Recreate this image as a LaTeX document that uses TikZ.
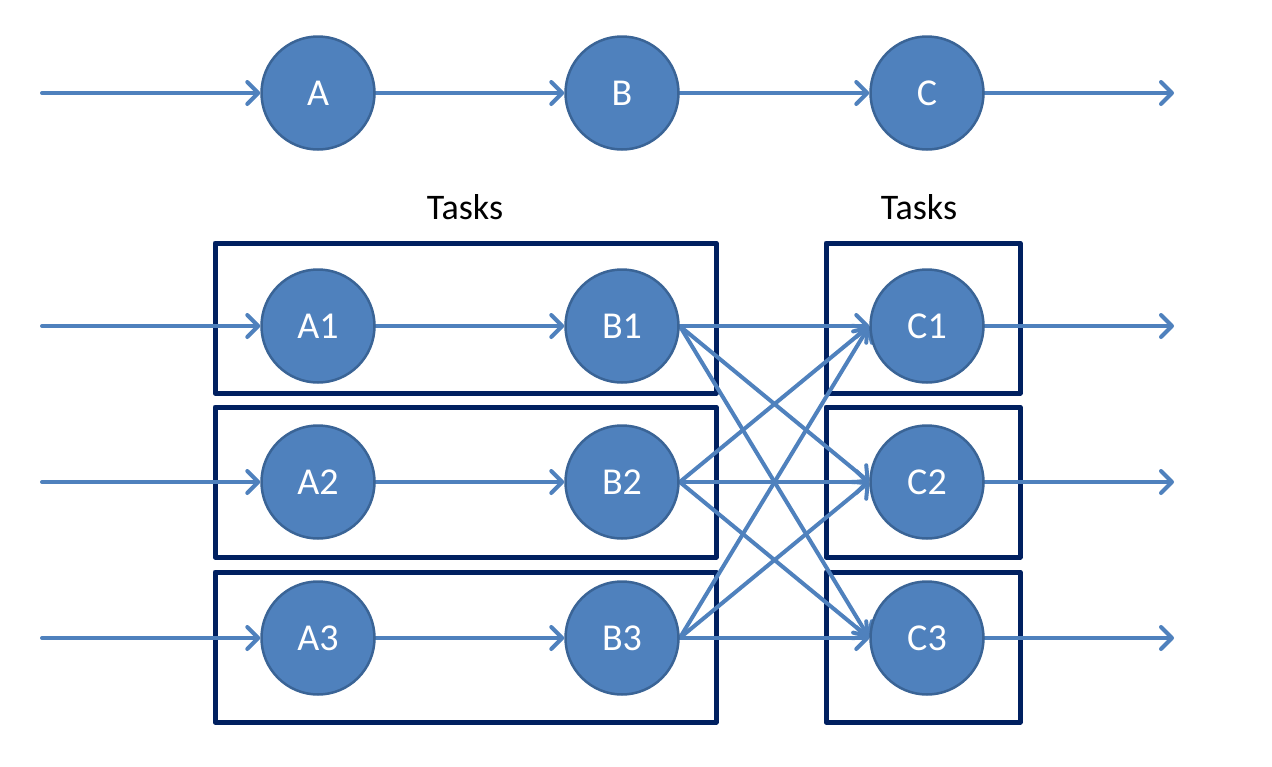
\documentclass[tikz,border=0pt]{standalone}
\usepackage{fontspec}
\setmainfont{Carlito}
\usetikzlibrary{arrows.meta}
\definecolor{nodefill}{HTML}{4F81BD}
\definecolor{nodeline}{HTML}{3A6496}
\definecolor{arrowcol}{HTML}{4F81BD}
\definecolor{boxcol}{HTML}{002060}
\pgfdeclarelayer{boxlayer}
\pgfdeclarelayer{linelayer}
\pgfsetlayers{boxlayer,linelayer,main}
\tikzset{
  circ/.style={circle, minimum size=113pt, inner sep=0pt, fill=nodefill, draw=nodeline, line width=2.5pt, text=white, font=\fontsize{38}{42}\selectfont},
  conn/.style={draw=arrowcol, line width=4pt, line cap=round, -{Straight Barb[length=11pt,width=22pt,line width=4pt,round]}},
  taskbox/.style={draw=boxcol, line width=5pt, line join=round},
  lbl/.style={font=\fontsize{36}{40}\selectfont, text=black}
}
\begin{document}
\begin{tikzpicture}[x=1pt,y=-1pt]
\useasboundingbox (0,0) rectangle (1272,766);
% labels
\node[lbl] (t1) at (465,207) {Tasks};
\node[lbl] (t2) at (919,207) {Tasks};
% nodes
\node[circ] (A) at (318,93) {A};
\node[circ] (B) at (622,93) {B};
\node[circ] (C) at (927,93) {C};
\node[circ] (A1) at (318,326) {A1};
\node[circ] (B1) at (622,326) {B1};
\node[circ] (C1) at (927,326) {C1};
\node[circ] (A2) at (318,482) {A2};
\node[circ] (B2) at (622,482) {B2};
\node[circ] (C2) at (927,482) {C2};
\node[circ] (A3) at (318,638) {A3};
\node[circ] (B3) at (622,638) {B3};
\node[circ] (C3) at (927,638) {C3};
% free ends
\coordinate (s0) at (42,93);
\coordinate (s1) at (42,326);
\coordinate (s2) at (42,482);
\coordinate (s3) at (42,638);
\coordinate (e0) at (1174,93);
\coordinate (e1) at (1174,326);
\coordinate (e2) at (1174,482);
\coordinate (e3) at (1174,638);
% boxes
\begin{pgfonlayer}{boxlayer}
\draw[taskbox] (215,243) rectangle (716,393);
\draw[taskbox] (215,407) rectangle (716,557);
\draw[taskbox] (215,572) rectangle (716,722);
\draw[taskbox] (826,243) rectangle (1020,393);
\draw[taskbox] (826,407) rectangle (1020,557);
\draw[taskbox] (826,572) rectangle (1020,722);
\end{pgfonlayer}
% connectors
\begin{pgfonlayer}{linelayer}
\draw[conn] (s0) -- (A.west);
\draw[conn] (A.east) -- (B.west);
\draw[conn] (B.east) -- (C.west);
\draw[conn] (C.east) -- (e0);
\foreach \i in {1,2,3}{
  \draw[conn] (s\i) -- (A\i.west);
  \draw[conn] (A\i.east) -- (B\i.west);
  \draw[conn] (C\i.east) -- (e\i);
  \foreach \j in {1,2,3}{
    \draw[conn] (B\i.east) -- (C\j.west);
  }
}
\end{pgfonlayer}
\end{tikzpicture}
\end{document}
